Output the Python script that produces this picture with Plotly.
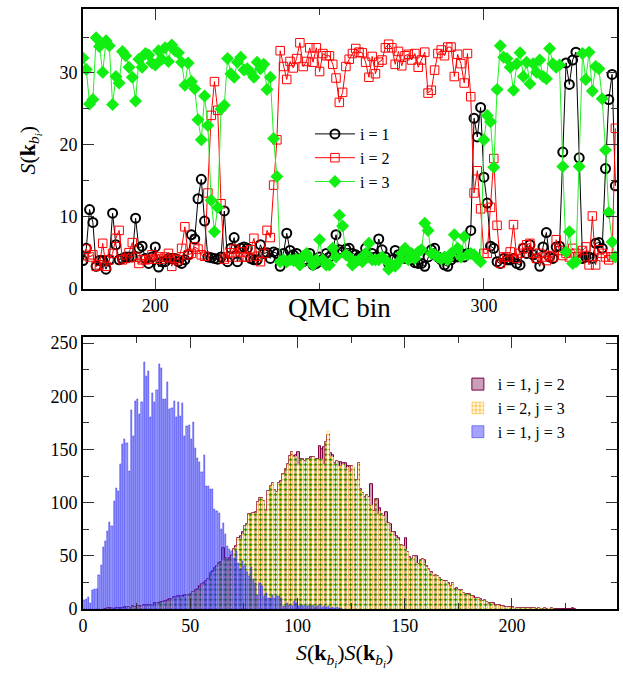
import plotly.graph_objects as go

# ---------------- top panel data ----------------
qmc_first_bin = 178
s1 = [3.9,5.6,11.0,9.2,3.1,3.9,3.9,2.7,4.0,10.5,
      6.1,4.0,4.2,4.4,4.4,4.4,9.8,5.6,5.9,4.2,
      3.5,4.4,5.8,3.0,3.75,3.75,4.2,4.2,4.2,3.75,
      3.5,4.0,4.7,7.5,6.9,12.5,15.2,9.4,4.4,4.3,
      4.2,4.1,4.4,10.8,3.75,5.6,7.1,3.75,5.6,5.8,
      5.6,4.2,4.0,4.0,6.1,4.9,5.0,4.2,5.1,4.9,
      3.1,4.9,7.7,5.3,4.7,4.9,4.2,3.75,4.0,4.9,
      3.3,3.5,4.4,4.1,4.9,4.4,5.4,7.5,5.4,5.1,
      5.5,5.6,4.9,4.7,4.4,4.5,5.6,4.4,4.9,4.4,
      6.9,5.4,4.4,3.5,4.0,5.3,4.7,4.4,4.2,4.4,
      4.0,3.6,3.5,3.5,3.1,4.4,5.4,5.6,4.4,4.0,
      3.3,3.1,4.0,4.4,4.4,4.9,4.4,4.9,
      8.1,23.7,21.1,25.2,15.5,11.9,5.9,5.6,3.75,3.5,
      4.2,4.0,4.0,4.2,3.5,3.3,5.6,4.9,6.1,4.7,
      4.2,3.1,5.8,7.8,4.4,4.2,5.8,5.9,19.0,31.4,
      28.4,31.8,32.9,18.2,4.2,4.4,4.4,4.2,6.3,6.4,
      5.6,16.7,26.3,29.8,14.3]
s2 = [4.6,5.5,4.4,4.7,3.1,3.3,6.3,3.1,4.0,4.9,
      7.0,8.1,4.0,4.2,5.0,6.4,4.35,3.5,4.0,4.0,
      4.1,4.7,4.1,4.4,4.1,4.4,4.9,3.1,4.2,4.0,
      5.6,8.6,4.7,4.9,5.8,5.5,4.7,4.5,13.3,24.1,
      28.8,24.8,11.8,4.1,4.4,5.0,5.5,4.4,5.1,4.4,
      4.4,5.4,7.0,4.5,3.75,4.9,8.1,7.1,14.4,20.7,
      33.1,30.9,29.1,31.6,30.7,32.0,34.2,30.9,31.6,33.5,
      31.5,33.5,30.2,32.7,32.4,32.4,31.2,29.3,25.9,27.3,
      30.9,31.9,32.7,33.4,32.9,32.8,31.5,29.4,32.3,29.9,
      31.5,31.8,33.5,34.0,33.5,31.2,33.0,31.0,32.4,32.6,
      31.8,32.7,30.8,31.8,32.9,27.2,27.6,30.4,32.7,33.2,
      32.4,33.6,33.6,29.5,32.6,31.3,28.6,32.7,26.7,13.3,
      16.4,11.1,4.9,4.9,11.3,18.1,8.8,3.5,4.4,4.4,
      5.1,8.9,4.2,4.9,5.6,6.1,6.3,4.9,4.2,4.9,
      4.4,3.9,4.6,4.4,6.8,5.3,4.6,4.9,4.4,5.6,
      4.9,4.4,5.3,5.8,3.3,10.1,3.3,5.4,4.9,4.4,
      4.0,4.4,22.3]
s3 = [32.1,30.5,25.7,26.3,34.9,33.7,30.1,34.5,33.8,25.6,
      29.5,28.6,33.0,32.4,30.8,29.4,26.1,31.9,30.8,32.7,
      32.5,31.4,31.1,33.1,31.9,33.5,31.6,33.9,33.1,32.8,
      31.5,28.3,31.4,28.8,27.8,23.5,20.7,26.8,22.7,12.3,
      7.9,11.3,25.0,25.5,32.0,29.9,29.4,31.5,32.2,30.4,
      30.6,30.1,29.4,31.5,30.6,31.2,27.7,29.4,20.9,15.6,
      3.75,4.0,3.75,4.0,3.9,4.1,3.3,4.5,4.9,4.2,
      3.3,4.0,6.8,4.0,3.3,3.3,5.6,4.4,10.2,8.7,
      4.7,4.4,3.3,3.75,4.0,3.75,4.9,6.3,4.0,4.0,
      4.0,4.4,4.0,2.7,3.3,3.1,3.75,4.9,5.6,4.0,
      4.9,4.2,5.1,5.4,9.1,8.1,4.9,4.7,4.4,4.1,
      4.4,4.0,4.9,7.5,5.6,4.4,7.2,4.7,4.9,4.7,
      4.2,3.75,
      20.7,24.1,23.2,16.9,27.7,33.8,32.2,32.0,30.8,27.6,
      31.3,32.8,29.5,31.5,28.5,31.3,30.1,31.8,29.5,29.2,
      33.4,31.3,30.8,31.1,17.0,5.1,7.9,3.5,3.75,17.0,
      32.7,29.1,32.9,27.5,30.9,30.6,26.4,19.3,10.6,6.5,
      4.4]
qmc_bin = list(range(qmc_first_bin, qmc_first_bin + len(s1)))

# ---------------- bottom panel data (bin width 1) ----------------
blue_first_bin = 0
h13 = [8,9.4,11,5.6,18,19,19,32,41,58,
       64,73,82,78,101,114,111,136,155,160,
       156,130,187,162,195,197,183,194,232,219,
       224,180,203,194,206,230,226,197,197,213,
       188,189,195,180,194,181,193,162,172,173,
       160,176,151,142,138,129,145,115,115,113,
       113,94,92,90,75,81,70,59,56,54,
       48,54,43,37,45,40,35,31,39,28,
       24,13,24,21,12,15,10,10,13,10,
       12,12,10,2.5,2.5,5.6,4,3,7,5,
       3,2.5,4,2.5,3,4,3,4,2,3,
       4,2,3,2,3,1,2,1,2,1,1]
pair_first_bin = 10
h23 = [0,1,0,1,0,1,1,0,1,1,
       1,2,1,2,2,3,2,3,3,4,
       3,4,3,4,5,4,5,6,6,7,
       8,9,10,11,10,12,11,12,13,12,
       14,16,18,18,20,23,22,25,28,34,
       35,37,39,42,43,46,48,45,47,50,
       56,58,67,66,70,78,80,89,89,90,
       90,100,104,104,101,92,111,115,118,112,
       110,118,119,127,131,136,144,147,143,144,
       135,141,140,139,141,141,142,143,141,141,
       141,141,136,157,167,144,143,136,139,134,
       134,136,131,133,129,134,134,121,137,112,
       109,104,107,105,98,92,103,89,92,89,
       87,81,81,72,72,68,67,65,60,59,
       56,53,48,47,50,43,42,46,47,43,
       39,37,34,31,32,31,29,27,26,26,
       23,21,24,19,19,18,18,15,14,13,
       14,12,10,10,10,8,7,8,6,4,
       5,4,4,4,3,3,2,2,2,2,
       1,2,1,1,1,1,1,1,1,1,
       1,0,1,1,0,1,0,1,1,0]
h12 = [0,1,1,1,0,1,1,1,1,2,
       2,2,1,3,2,3,3,3,4,4,
       4,4,3,5,5,5,6,6,7,8,
       9,9,11,11,12,12,12,13,13,13,
       14,16,18,19,21,23,24,26,28,34,
       36,38,40,43,44,57,48,46,48,51,
       56,59,67,68,72,78,80,89,89,90,
       91,100,104,104,101,93,111,115,118,112,
       110,118,120,127,131,136,144,147,144,145,
       147,141,141,139,141,141,143,143,141,141,
       153,150,152,157,163,146,145,137,139,138,
       138,137,137,134,134,134,132,121,137,113,
       109,105,107,105,117,92,103,103,95,89,
       87,91,81,80,72,72,68,67,60,59,
       67,53,49,47,50,50,42,46,47,46,
       40,37,35,31,32,31,29,27,26,26,
       24,21,24,19,20,18,18,15,14,14,
       14,12,12,10,10,9,7,8,6,5,
       5,5,4,4,4,3,3,2,2,2,
       2,1,1,1,1,1,1,1,1,1,
       1,0,1,0,0,1,0,0,1,0,
       0,0,0,0,0,0,0,0,1,0]
x13 = [blue_first_bin + k + 0.5 for k in range(len(h13))]
x23 = [pair_first_bin + k + 0.5 for k in range(len(h23))]
x12 = [pair_first_bin + k + 0.5 for k in range(len(h12))]

FONT = "'Liberation Serif', 'Times New Roman', Times, serif"
fig = go.Figure()

# top panel
fig.add_trace(go.Scatter(x=qmc_bin, y=s1, mode="lines+markers", name="i = 1",
    line=dict(color="black", width=1),
    marker=dict(symbol="circle-open", size=9, color="black", line=dict(width=2)),
    xaxis="x", yaxis="y", legend="legend"))
fig.add_trace(go.Scatter(x=qmc_bin, y=s2, mode="lines+markers", name="i = 2",
    line=dict(color="red", width=1),
    marker=dict(symbol="square-open", size=8.5, color="red", line=dict(width=1)),
    xaxis="x", yaxis="y", legend="legend"))
fig.add_trace(go.Scatter(x=qmc_bin, y=s3, mode="lines+markers", name="i = 3",
    line=dict(color="#22ee22", width=1),
    marker=dict(symbol="diamond", size=10, color="#11ee11"),
    xaxis="x", yaxis="y", legend="legend"))

# bottom panel
fig.add_trace(go.Bar(x=x12, y=h12, width=1, name="i = 1, j = 2",
    marker=dict(color="rgba(160,80,130,0.55)", line=dict(color="#7a0040", width=1)),
    xaxis="x2", yaxis="y2", legend="legend2"))
fig.add_trace(go.Bar(x=x23, y=h23, width=1, name="i = 2, j = 3",
    marker=dict(color="orange", line=dict(color="rgba(255,165,0,0.5)", width=0.5),
                pattern=dict(shape="+", fillmode="replace", bgcolor="rgb(255,252,236)",
                             size=5, solidity=0.3)),
    xaxis="x2", yaxis="y2", legend="legend2"))
fig.add_trace(go.Bar(x=x23, y=h23, width=1, name="i = 2, j = 3", showlegend=False,
    marker=dict(color="rgba(0,140,0,1)", line=dict(width=0),
                pattern=dict(shape=".", fillmode="replace", bgcolor="rgba(0,0,0,0)",
                             size=5, solidity=0.2)),
    xaxis="x2", yaxis="y2", legend="legend2"))
fig.add_trace(go.Bar(x=x13, y=h13, width=0.55, name="i = 1, j = 3",
    marker=dict(color="rgba(115,115,255,0.65)", line=dict(color="rgba(0,0,240,0.85)", width=0.5)),
    xaxis="x2", yaxis="y2", legend="legend2"))

axis_common = dict(showline=True, linecolor="black", linewidth=1.6, mirror="ticks",
                   ticks="inside", ticklen=11, tickwidth=1.3, tickcolor="#333",
                   showgrid=False, zeroline=False, automargin=False,
                   tickfont=dict(family=FONT, size=18, color="black"))

fig.update_layout(
    width=623, height=675, autosize=False,
    margin=dict(l=83, r=6, t=9, b=66),
    paper_bgcolor="white", plot_bgcolor="white",
    barmode="overlay", bargap=0,
    font=dict(family=FONT, color="black"),
    xaxis=dict(domain=[0, 1], anchor="y", range=[178, 340.5], dtick=100, tick0=0,
               minor=dict(dtick=50, ticklen=6, ticks="inside", tickcolor="#333"), **axis_common),
    yaxis=dict(domain=[0.534, 1.0], anchor="x", range=[0, 38.9], dtick=10, tick0=0,
               minor=dict(dtick=5, ticklen=6, ticks="inside", tickcolor="#333"), **axis_common),
    xaxis2=dict(domain=[0, 1], anchor="y2", range=[0, 249], dtick=50, tick0=0,
                minor=dict(dtick=25, ticklen=6, ticks="inside", tickcolor="#333"), **axis_common),
    yaxis2=dict(domain=[0, 0.453], anchor="x2", range=[0, 255.5], dtick=50, tick0=0,
                minor=dict(dtick=25, ticklen=6, ticks="inside", tickcolor="#333"), **axis_common),
    legend=dict(x=0.425, y=0.82, xanchor="left", yanchor="top", bgcolor="rgba(0,0,0,0)",
                font=dict(family=FONT, size=16), tracegroupgap=0, itemwidth=40),
    legend2=dict(x=0.702, y=0.403, xanchor="left", yanchor="top", bgcolor="rgba(0,0,0,0)",
                 font=dict(family=FONT, size=16), tracegroupgap=0),
    annotations=[
        dict(text="QMC bin", xref="paper", yref="paper", x=0.48, y=0.502,
             xanchor="center", yanchor="middle", showarrow=False,
             font=dict(family=FONT, size=27)),
        dict(text="<i>S</i>(<b>k</b><sub><i>b</i><sub><i>i</i></sub></sub>)", xref="paper", yref="paper",
             x=-0.1, y=0.765, xanchor="center", yanchor="middle", textangle=-90,
             showarrow=False, font=dict(family=FONT, size=22)),
        dict(text="<i>S</i>(<b>k</b><sub><i>b</i><sub><i>i</i></sub></sub>)<i>S</i>(<b>k</b><sub><i>b</i><sub><i>i</i></sub></sub>)",
             xref="paper", yref="paper", x=0.49, y=-0.077, xanchor="center", yanchor="middle",
             showarrow=False, font=dict(family=FONT, size=22)),
    ],
)

fig.write_html("out.html", config={"displayModeBar": False},
               post_script="document.body.style.margin='0px';document.body.style.overflow='hidden';")
